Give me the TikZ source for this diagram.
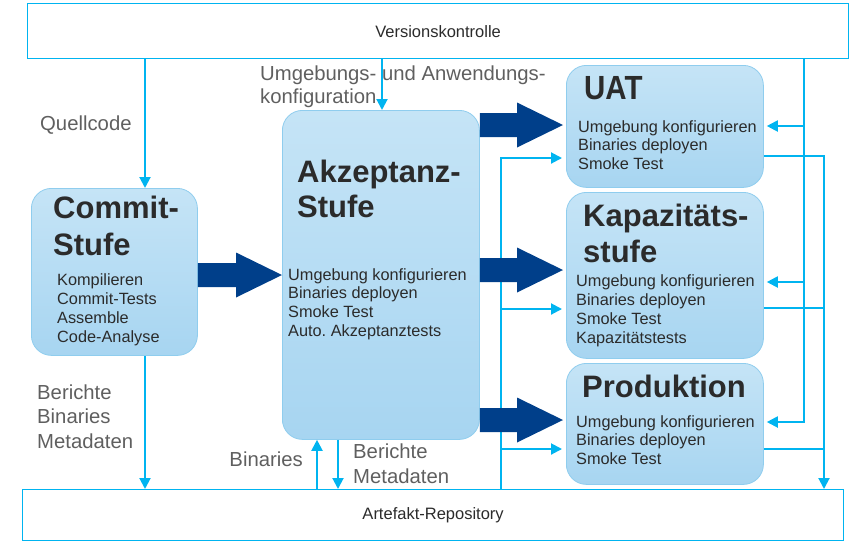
\documentclass[tikz,border=0pt]{standalone}
\usepackage{fontspec}
\setmainfont{Liberation Sans}
\usetikzlibrary{arrows.meta,calc}
\frenchspacing
\definecolor{cy}{HTML}{00B4F0}
\definecolor{dkb}{HTML}{003F8A}
\definecolor{boxtop}{HTML}{C5E4F6}
\definecolor{boxbot}{HTML}{A7D5F1}
\definecolor{boxline}{HTML}{8FCDEE}
\definecolor{ttlc}{HTML}{2B2B2B}
\definecolor{lblc}{HTML}{5F5F5F}
\newcommand{\bigarr}[4]{%
  \path (0,#3) coordinate (bay);
  \path (#1.east |- bay) coordinate (bas);
  \path ($(#2.west |- bay)+(-#4,0)$) coordinate (bat);
  \fill[dkb] ($(bas)+(0,-12)$) -- ($(bat)+(-46,-12)$) -- ($(bat)+(-46,-22.5)$) -- (bat)
    -- ($(bat)+(-46,22.5)$) -- ($(bat)+(-46,12)$) -- ($(bas)+(0,12)$) -- cycle;}
\begin{document}
\begin{tikzpicture}[x=1pt,y=-1pt,
 stage/.style={draw=boxline, line width=0.8pt, rounded corners=20pt, top color=boxtop, bottom color=boxbot, anchor=north west, inner sep=0pt},
 repo/.style={draw=cy, line width=1.2pt, fill=white, anchor=north west, inner sep=0pt},
 conn/.style={draw=cy, line width=2pt},
 withtip/.style={-{Triangle[width=11pt,length=11pt]}},
 ttl/.style={font=\fontsize{31}{36}\selectfont\bfseries, text=ttlc, anchor=base west, inner sep=0pt},
 body/.style={font=\fontsize{16.3}{19}\selectfont, text=ttlc, anchor=base west, inner sep=0pt},
 lbl/.style={font=\fontsize{20.3}{24}\selectfont, text=lblc, anchor=base west, inner sep=0pt}]
\useasboundingbox (0,0) rectangle (865,542);

% repositories
\node[repo, minimum width=821, minimum height=55] (vk) at (27,3) {};
\node[font=\fontsize{16.5}{19}\selectfont, text=ttlc] (vkt) at (vk.center) {Versionskontrolle};
\node[repo, minimum width=821, minimum height=51] (art) at (22,489) {};
\node[font=\fontsize{16.5}{19}\selectfont, text=ttlc] (artt) at (art.center) {Artefakt-Repository};

% stages
\node[stage, minimum width=166, minimum height=167] (commit) at (31,188) {};
\node[stage, minimum width=197, minimum height=329] (akz) at (282,110) {};
\node[stage, minimum width=197, minimum height=122] (uat) at (566,65) {};
\node[stage, minimum width=197, minimum height=166] (kap) at (566,192) {};
\node[stage, minimum width=197, minimum height=121] (prod) at (566,363) {};

% titles
\node[ttl] (ct1) at (53,218) {Commit-};
\node[ttl] (ct2) at (53,255) {Stufe};
\node[ttl] (at1) at (297,182) {Akzeptanz-};
\node[ttl] (at2) at (297,217) {Stufe};
\node[ttl, font=\fontsize{33.5}{36}\selectfont\bfseries, xscale=0.88] (ut1) at (584,99) {UAT};
\node[ttl] (kt1) at (583,226) {Kapazitäts-};
\node[ttl] (kt2) at (583,262) {stufe};
\node[ttl] (pt1) at (582,397) {Produktion};

% bodies
\foreach \t [count=\i] in {Kompilieren,Commit-Tests,Assemble,Code-Analyse}
  \node[body] (cb\i) at (57,285+19*\i-19) {\t};
\foreach \t [count=\i] in {Umgebung konfigurieren,Binaries deployen,Smoke Test,Auto. Akzeptanztests}
  \node[body] (ab\i) at (288,280+18.7*\i-18.7) {\t};
\foreach \t [count=\i] in {Umgebung konfigurieren,Binaries deployen,Smoke Test}
  \node[body] (ub\i) at (578,132+18.5*\i-18.5) {\t};
\foreach \t [count=\i] in {Umgebung konfigurieren,Binaries deployen,Smoke Test,Kapazitätstests}
  \node[body] (kb\i) at (576,286+19*\i-19) {\t};
\foreach \t [count=\i] in {Umgebung konfigurieren,Binaries deployen,Smoke Test}
  \node[body] (pb\i) at (576,427+18.5*\i-18.5) {\t};

% labels
\node[lbl] (lq) at (40,130) {Quellcode};
\node[lbl] (lu1) at (260,80) {Umgebungs- und Anwendungs-};
\node[lbl] (lu2) at (260,103) {konfiguration};
\node[lbl] (lb1) at (37,399) {Berichte};
\node[lbl] (lb2) at (37,423) {Binaries};
\node[lbl] (lb3) at (37,448) {Metadaten};
\node[lbl, anchor=base east] (lbin) at (303,466) {Binaries};
\node[lbl] (lr1) at (353,458) {Berichte};
\node[lbl] (lr2) at (353,483) {Metadaten};

% helper coordinates
\coordinate (xq) at (145,0);
\coordinate (xu) at (382,0);
\coordinate (xb) at (317,0);
\coordinate (xm) at (338,0);
\coordinate (xr1) at (804,0);
\coordinate (xr2) at (824,0);
\coordinate (xl) at (501,0);
\coordinate (yu1) at (0,126);
\coordinate (yk1) at (0,282);
\coordinate (yp1) at (0,422);
\coordinate (yu2) at (0,156);
\coordinate (yk2) at (0,308);
\coordinate (yp2) at (0,449);
\coordinate (yu3) at (0,158);
\coordinate (yk3) at (0,309);
\coordinate (yp3) at (0,449);

% connectors
\draw[conn,withtip] (vk.south -| xq) -- (commit.north -| xq);
\draw[conn,withtip] (vk.south -| xu) -- (akz.north -| xu);
\draw[conn,withtip] (commit.south -| xq) -- (art.north -| xq);
\draw[conn,withtip] (art.north -| xb) -- (akz.south -| xb);
\draw[conn,withtip] (akz.south -| xm) -- (art.north -| xm);

\draw[conn,withtip,shorten >=3pt] (vk.south -| xr1) |- (prod.east |- yp1);
\draw[conn,withtip,shorten >=3pt] (xr1 |- yu1) -- (uat.east |- yu1);
\draw[conn,withtip,shorten >=3pt] (xr1 |- yk1) -- (kap.east |- yk1);

\draw[conn,withtip] (uat.east |- yu2) -| (art.north -| xr2);
\draw[conn] (kap.east |- yk2) -- (xr2 |- yk2);
\draw[conn] (prod.east |- yp2) -- (xr2 |- yp2);

\draw[conn,withtip,shorten >=4pt] (art.north -| xl) |- (uat.west |- yu3);
\draw[conn,withtip,shorten >=4pt] (xl |- yk3) -- (kap.west |- yk3);
\draw[conn,withtip,shorten >=4pt] (xl |- yp3) -- (prod.west |- yp3);

% big arrows
\bigarr{commit}{akz}{275}{0}
\bigarr{akz}{uat}{125}{3}
\bigarr{akz}{kap}{270}{3}
\bigarr{akz}{prod}{420}{3}
\end{tikzpicture}
\end{document}
